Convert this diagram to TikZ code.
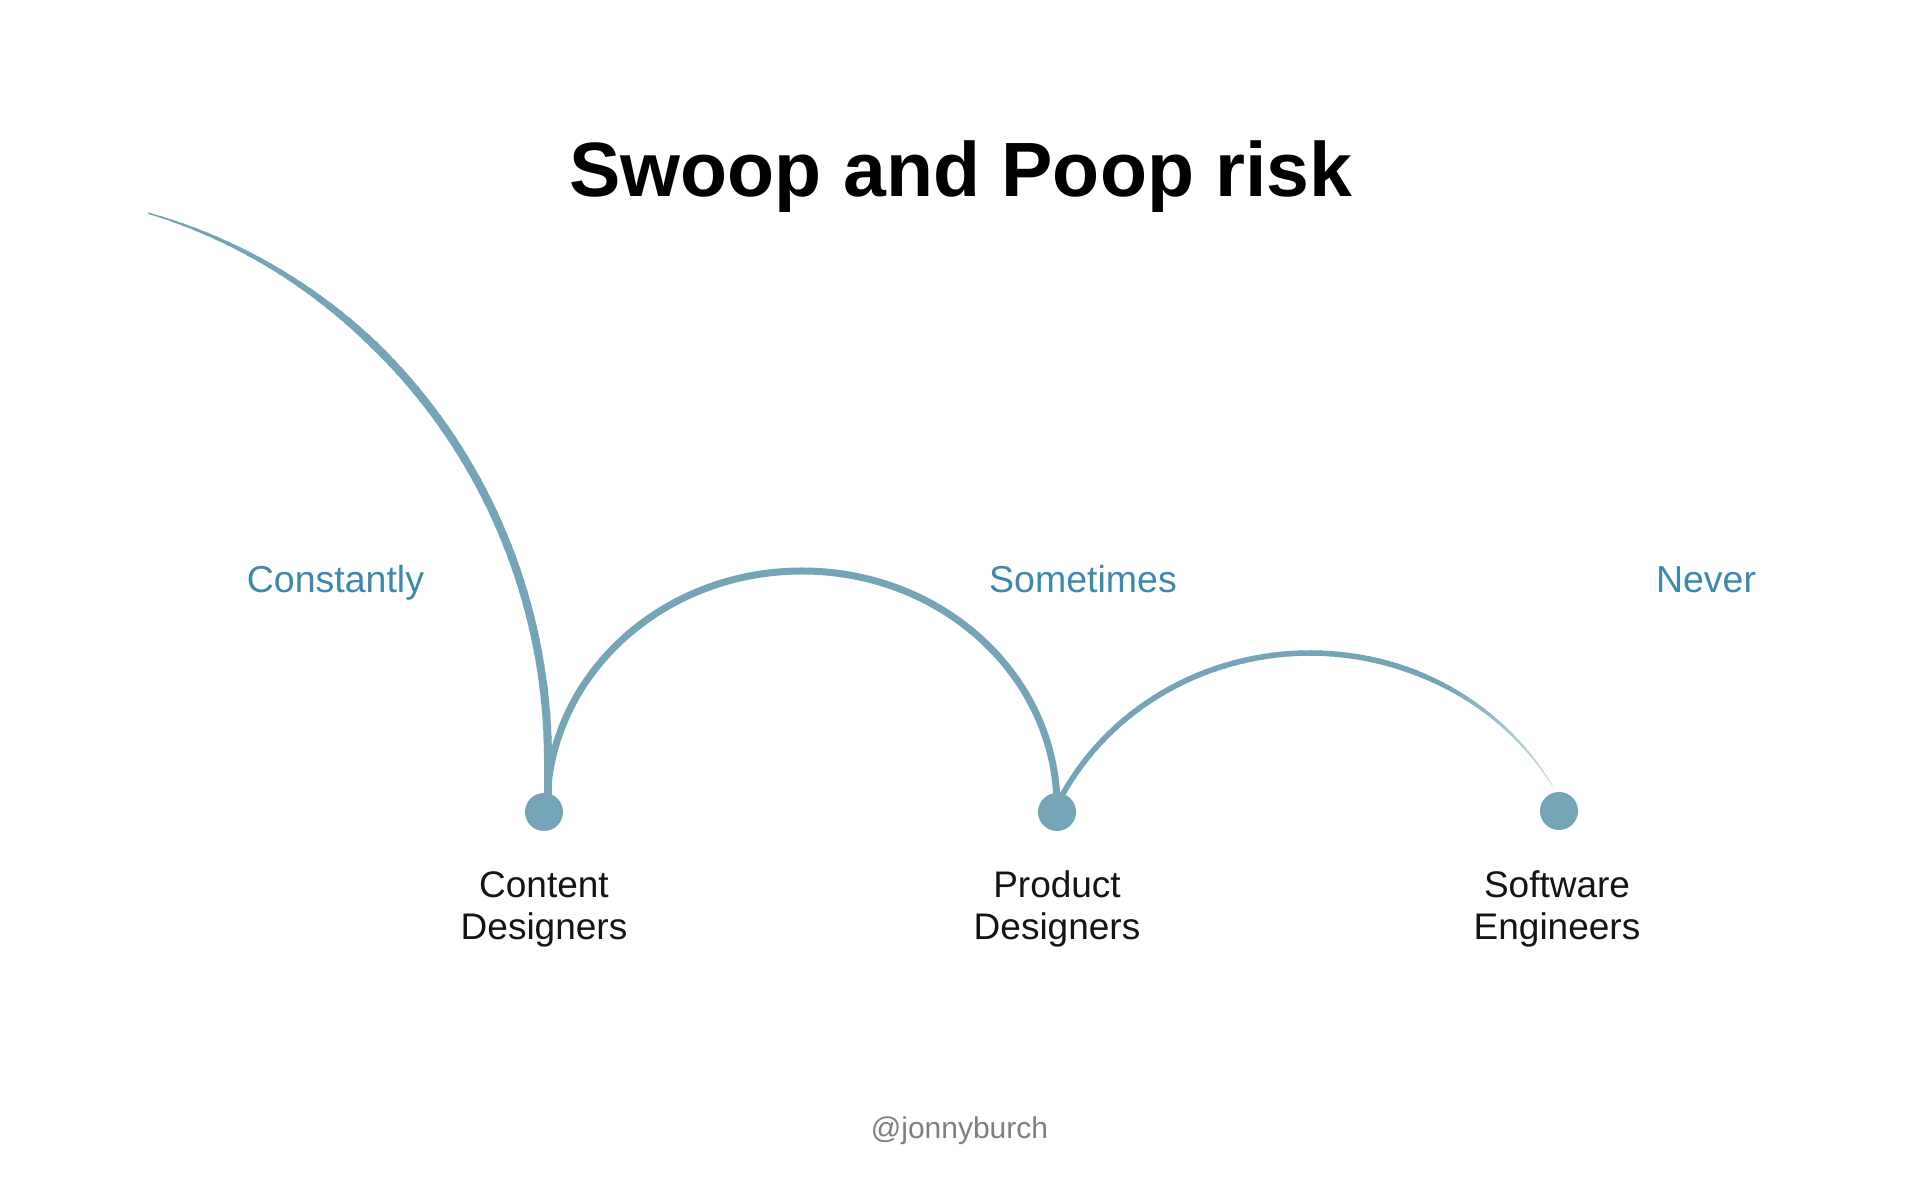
\documentclass[tikz,border=0pt]{standalone}
\usepackage{fontspec}
\setmainfont{Liberation Sans}
\definecolor{swoop}{RGB}{116,164,181}
\definecolor{lbl}{RGB}{61,137,173}
\definecolor{foot}{RGB}{128,128,128}
\begin{document}
\begin{tikzpicture}[x=1pt,y=1pt,
  dot/.style={circle,fill=swoop,minimum size=38pt,inner sep=0pt,draw=none},
  freq/.style={text=lbl,font=\fontsize{37.5}{40}\selectfont,anchor=base,inner sep=0pt},
  role/.style={align=center,font=\fontsize{37}{42}\selectfont,anchor=base,text=black!92,inner sep=0pt},
  arcline/.style={draw=swoop,line cap=butt}]
\useasboundingbox[fill=white] (0,0) rectangle (1920,1200);
\node[font=\fontsize{77}{80}\selectfont\bfseries,anchor=base,inner sep=0pt] (title) at (961,1003) {Swoop and Poop risk};
\node[freq] (f1) at (335.5,607) {Constantly};
\node[freq] (f2) at (1083,607) {Sometimes};
\node[freq] (f3) at (1706,607) {Never};
\node[dot] (c1) at (544,388) {};
\node[dot] (c2) at (1057,388) {};
\node[dot] (c3) at (1559,389) {};
\node[role] (r1) at (544,260) {Content\\Designers};
\node[role] (r2) at (1057,260) {Product\\Designers};
\node[role] (r3) at (1557,260) {Software\\Engineers};
\node[font=\fontsize{30}{32}\selectfont,text=foot,anchor=base,inner sep=0pt] (ft) at (959.5,62) {@jonnyburch};
% curve 1 (tapered start)
\coordinate (e1) at (0,440);
\foreach \i in {0,...,59}{
  \pgfmathsetmacro\aa{74.3-74.3*\i/60}
  \pgfmathsetmacro\ab{max(0,74.3-74.3*(\i+1)/60-0.4)}
  \pgfmathsetmacro\w{min(8,1.5+6.5*(\i/60)/0.35)}
  \draw[arcline,line width=\w pt,shift={(e1)}] (\aa:548 and 568) arc[start angle=\aa,end angle=\ab,x radius=548,y radius=568];
}
\draw[arcline,line width=8pt] ([shift={(548,0)}]e1) -- ([xshift=4pt]c1.center);
% curve 2
\draw[arcline,line width=7pt] ([shift={(3,5)}]c1.center) arc[start angle=180,end angle=0,x radius=255,y radius=236];
% curve 3 (fading end)
\coordinate (e3) at (1310,281);
\foreach \i in {0,...,61}{
  \pgfmathsetmacro\aa{154-124*\i/62}
  \pgfmathsetmacro\ab{max(30,154-124*(\i+1)/62-0.4)}
  \pgfmathsetmacro\w{min(5.5,0.8+4.7*(\aa-30)/40)}
  \pgfmathtruncatemacro\p{min(100,30+70*(\aa-30)/32)}
  \draw[draw=swoop!\p!white,line cap=butt,line width=\w pt,shift={(e3)}] (\aa:280 and 266) arc[start angle=\aa,end angle=\ab,x radius=280,y radius=266];
}
\end{tikzpicture}
\end{document}
